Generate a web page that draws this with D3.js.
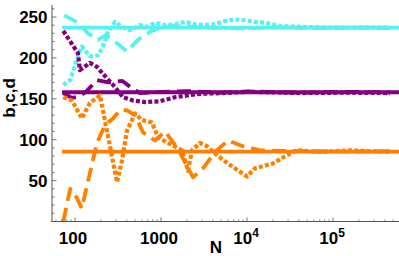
<!DOCTYPE html>
<html>
<head>
<meta charset="utf-8">
<script src="https://cdn.jsdelivr.net/npm/d3@7"></script>
<style>
  html, body { margin: 0; padding: 0; background: #fff; }
  svg { display: block; }
  .tick-label { font-family: "Liberation Sans", Arial, sans-serif; font-weight: bold; font-size: 17px; fill: #000; }
</style>
</head>
<body>
<div id="chart"></div>
<script>
// reference (converged) values
const bLimit = 237, cLimit = 158, dLimit = 85.5;

// cyan series [N, value]
const bDashed = [[75,252],[105,244],[142,230],[185,222],[229,228],[316,217],[402,208],[540,222],[745,232],[1028,238],
  [1456,239],[2173,238],[3715,237],[8290,236],[20000,237.5],[50000,236.5],[150000,237],[460000,236.5]];
const bDotted = [[73,167],[88,173],[103,195],[120,214],[149,202],[185,203],[217,217],[242,232],[292,244],[352,238],
  [436,234],[570,240],[706,238],[851,243],[1114,240],[1456,241],[1901,244],[2483,241],[3250,240],[4246,241],
  [5546,245],[7246,247],[9480,246],[12390,244],[16190,243],[24190,239],[41300,238],[100000,237],[460000,237.5]];

// purple series
const cDashed = [[73,157],[92,151],[114,153],[138,160],[180,173],[242,170],[352,172],[460,163],[570,157],[1000,158.5],
  [2000,159.5],[5000,157.5],[10000,159],[40000,157.5],[120000,158.5],[460000,158]];
const cDotted = [[73,233],[108,206],[114,185],[149,194],[180,189],[235,175],[277,167],[361,152],[470,148],[652,146],
  [973,147],[1456,152],[2005,154],[2840,156],[5000,157],[10840,158.5],[41300,157],[150000,157.5],[460000,157]];

// orange series
const dDashed = [[73,0],[88,40],[105,29],[120,16],[142,50],[180,96],[223,118],[277,126],[334,136],[402,136],[499,130],
  [618,109],[851,99],[1114,110],[1570,89],[2355,54],[3078,65],[4246,85],[6012,99],[8974,92],[14160,87],
  [41300,86],[150000,85.5],[460000,86]];
const dDotted = [[73,152],[92,148],[120,126],[149,145],[195,154],[235,111],[308,48],[352,75],[402,111],[499,132],
  [601,124],[786,121],[923,103],[1206,96],[1754,87],[2061,62],[2291,87],[2840,96],[3427,92],[4246,83],[6339,69],
  [10000,55],[12390,65],[20050,71],[29170,81],[38120,87],[70600,85],[157800,87],[460000,85]];

const xDomain = [54, 585000];
const yDomain = [0, 265];
const yMajor = [50, 100, 150, 200, 250];
const xMajor = [100, 1000, 10000, 100000];

const W = 399, H = 256;
const x = d3.scaleLog().domain(xDomain).range([52, 399]);
const y = d3.scaleLinear().domain(yDomain).range([221.5, 221.5 - 265 * 0.818]);

const colors = { b: '#55f2f2', c: '#800080', d: '#ff8000' };

const svg = d3.select('#chart').append('svg').attr('width', W).attr('height', H);

const line = d3.line().x(d => x(d[0])).y(d => y(d[1]));

const series = [
  { data: bDashed, color: colors.b, dash: '14,7', w: 3.8 },
  { data: bDotted, color: colors.b, dash: '4,2.2', w: 4.2 },
  { data: cDashed, color: colors.c, dash: '14,7', w: 3.8 },
  { data: cDotted, color: colors.c, dash: '4,2.2', w: 4.2 },
  { data: dDashed, color: colors.d, dash: '14,7', w: 3.8 },
  { data: dDotted, color: colors.d, dash: '4,2.2', w: 4.2 }
];

const plot = svg.append('g');
plot.append('defs').append('clipPath').attr('id', 'clip')
  .append('rect').attr('x', 52).attr('y', 0).attr('width', 347).attr('height', 222);
const marks = plot.append('g').attr('clip-path', 'url(#clip)');

// solid reference lines
[[bLimit, colors.b], [cLimit, colors.c], [dLimit, colors.d]].forEach(([v, c]) => {
  marks.append('path')
    .attr('d', line([[x.invert(62), v], [xDomain[1], v]]))
    .attr('stroke', c).attr('stroke-width', 3.8).attr('fill', 'none');
});

series.forEach(s => {
  marks.append('path')
    .attr('d', line(s.data))
    .attr('fill', 'none')
    .attr('stroke', s.color)
    .attr('stroke-width', s.w)
    .attr('stroke-dasharray', s.dash)
    .attr('stroke-linejoin', 'round');
});

// axes, Mathematica style: ticks inward
const axisColor = '#555';
const yAxis = svg.append('g').attr('transform', 'translate(52,0)');
yAxis.append('line').attr('x1', 0).attr('x2', 0).attr('y1', 5).attr('y2', 222)
  .attr('stroke', axisColor).attr('stroke-width', 1);
d3.range(10, 261, 10).forEach(v => {
  const major = yMajor.includes(v);
  yAxis.append('line').attr('x1', 0).attr('x2', major ? 4.5 : 2.5)
    .attr('y1', y(v)).attr('y2', y(v)).attr('stroke', axisColor).attr('stroke-width', 0.8);
});
yAxis.selectAll('text.ylab').data(yMajor).join('text')
  .attr('class', 'tick-label ylab')
  .attr('x', -4.5).attr('y', d => y(d)).attr('dy', '0.36em')
  .attr('text-anchor', 'end')
  .text(d => d);

const xAxis = svg.append('g').attr('transform', 'translate(0,221.5)');
xAxis.append('line').attr('x1', 51).attr('x2', 399).attr('y1', 0).attr('y2', 0)
  .attr('stroke', axisColor).attr('stroke-width', 1);
const minor = [];
for (let e = 1; e <= 5; e++) for (let m = 2; m <= 9; m++) {
  const v = m * Math.pow(10, e);
  if (v > xDomain[0] && v < xDomain[1]) minor.push(v);
}
minor.forEach(v => {
  xAxis.append('line').attr('x1', x(v)).attr('x2', x(v)).attr('y1', 0).attr('y2', -2)
    .attr('stroke', axisColor).attr('stroke-width', 0.7);
});
xMajor.forEach(v => {
  xAxis.append('line').attr('x1', x(v)).attr('x2', x(v)).attr('y1', 0).attr('y2', -4)
    .attr('stroke', axisColor).attr('stroke-width', 0.8);
});
xMajor.forEach(v => {
  const e = Math.round(Math.log10(v));
  const t = xAxis.append('text').attr('class', 'tick-label')
    .attr('y', 22).attr('text-anchor', 'middle');
  if (e < 4) {
    t.attr('x', x(v) - 2).text(String(v));
  } else {
    t.attr('x', x(v) - 1);
    t.append('tspan').text('10');
    t.append('tspan').attr('dy', -7).attr('font-size', '12px').text(String(e));
  }
});

svg.append('text').attr('class', 'tick-label')
  .attr('x', 216).attr('y', 253).attr('text-anchor', 'middle').text('N');

svg.append('text').attr('class', 'tick-label')
  .attr('transform', 'translate(15,98) rotate(-90)')
  .attr('text-anchor', 'middle').text('b,c,d');
</script>
</body>
</html>
